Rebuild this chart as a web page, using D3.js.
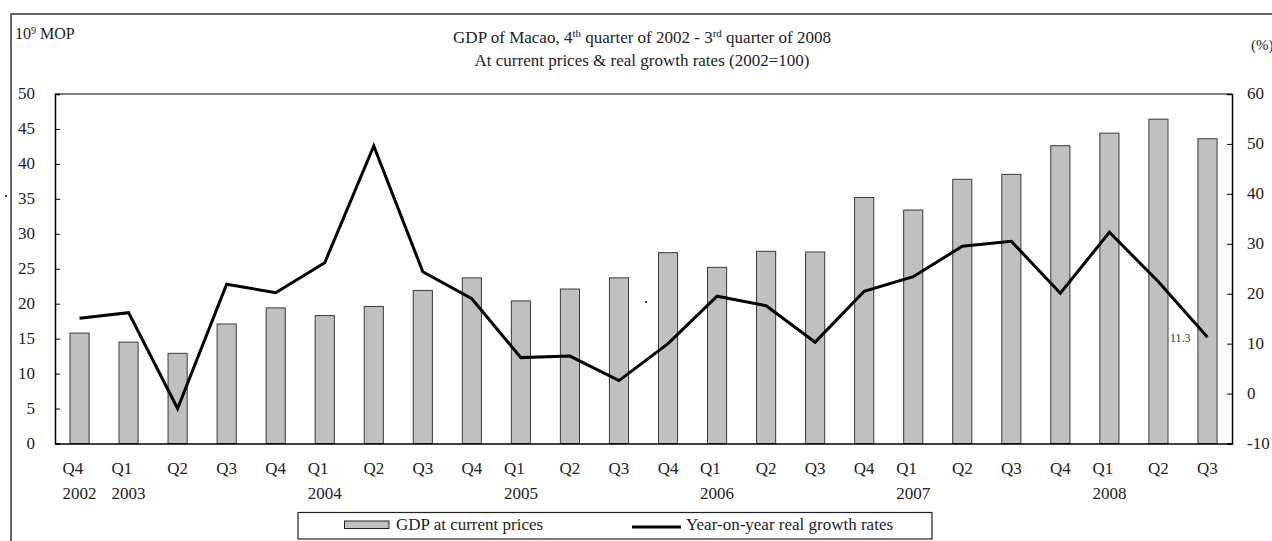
<!DOCTYPE html>
<html>
<head>
<meta charset="utf-8">
<script src="https://cdn.jsdelivr.net/npm/d3@7"></script>
<style>
  html, body { margin: 0; padding: 0; background: #fff; }
  svg { display: block; }
</style>
</head>
<body>
<svg id="chart" width="1272" height="541" font-family="'Liberation Serif', Tinos, 'Times New Roman', 'DejaVu Serif', 'Noto Serif', serif"></svg>
<script>
// ---- data ----
const quarters = ["Q4","Q1","Q2","Q3","Q4","Q1","Q2","Q3","Q4","Q1","Q2","Q3","Q4","Q1","Q2","Q3","Q4","Q1","Q2","Q3","Q4","Q1","Q2","Q3"];
const years    = ["2002","2003","","","","2004","","","","2005","","","","2006","","","","2007","","","","2008","",""];
const gdpValues    = [15.8,14.5,12.9,17.1,19.4,18.3,19.6,21.9,23.7,20.4,22.1,23.7,27.3,25.2,27.5,27.4,35.2,33.4,37.8,38.5,42.6,44.4,46.4,43.6];
const growthValues = [15.1,16.2,-3.0,21.9,20.2,26.2,49.6,24.4,19.0,7.2,7.5,2.6,10.0,19.5,17.6,10.3,20.5,23.4,29.5,30.5,20.1,32.3,22.4,11.3];
const leftTicks  = [0,5,10,15,20,25,30,35,40,45,50];
const rightTicks = [-10,0,10,20,30,40,50,60];
const legendLabels = ["GDP at current prices", "Year-on-year real growth rates"];
const lastLabel = "11.3";

// ---- layout ----
const svg = d3.select("#chart");
const TXT = "#222";
const L = 55, R = 1232, T = 94, B = 443.5;
const idx = d3.range(quarters.length);

const x = d3.scaleBand().domain(idx).range([L, R]).padding(0);
const bw = x.bandwidth() * 0.39;
const cx = i => x(i) + x.bandwidth() / 2;
const yL = d3.scaleLinear().domain([0, 50]).range([B, T]);
const yR = d3.scaleLinear().domain([-10, 60]).range([B, T]);

// outer frame
svg.append("rect").attr("x", 11).attr("y", 14).attr("width", 1400).attr("height", 700)
  .attr("fill", "none").attr("stroke", "#333").attr("stroke-width", 1.5);

// titles
const t1 = svg.append("text").attr("x", 642).attr("y", 43).attr("text-anchor", "middle").attr("font-size", 17).attr("fill", TXT);
t1.append("tspan").text("GDP of Macao, 4");
t1.append("tspan").attr("font-size", 11).attr("dy", -6).text("th");
t1.append("tspan").attr("dy", 6).text(" quarter of 2002 - 3");
t1.append("tspan").attr("font-size", 11).attr("dy", -6).text("rd");
t1.append("tspan").attr("dy", 6).text(" quarter of 2008");
svg.append("text").attr("x", 642).attr("y", 66).attr("text-anchor", "middle").attr("font-size", 17).attr("fill", TXT)
  .text("At current prices & real growth rates (2002=100)");

// unit labels
const u = svg.append("text").attr("x", 15).attr("y", 39).attr("font-size", 16).attr("fill", TXT);
u.append("tspan").text("10");
u.append("tspan").attr("font-size", 10).attr("dy", -5).text("9");
u.append("tspan").attr("dy", 5).text(" MOP");
svg.append("text").attr("x", 1251).attr("y", 50).attr("font-size", 15).attr("fill", TXT).text("(%)");

// bars
svg.append("g").selectAll("rect").data(gdpValues).join("rect")
  .attr("x", (d, i) => cx(i) - bw / 2)
  .attr("y", d => yL(d))
  .attr("width", bw)
  .attr("height", d => B - yL(d))
  .attr("fill", "#c0c0c0")
  .attr("stroke", "#3a3a3a")
  .attr("stroke-width", 1);

// plot top line
svg.append("line").attr("x1", L).attr("x2", R).attr("y1", T).attr("y2", T).attr("stroke", "#000").attr("stroke-width", 1.2);

// left axis
const gl = svg.append("g").attr("transform", `translate(${L},0)`)
  .call(d3.axisRight(yL).tickValues(leftTicks).tickSize(5).tickFormat(""));
gl.select(".domain").attr("stroke", "#000").attr("stroke-width", 1.5);
gl.selectAll(".tick line").attr("stroke", "#000");
svg.append("g").selectAll("text").data(leftTicks).join("text")
  .attr("x", 35).attr("y", d => yL(d) + 5).attr("text-anchor", "end").attr("font-size", 17).attr("fill", TXT).text(d => d);

// right axis
const gr = svg.append("g").attr("transform", `translate(${R},0)`)
  .call(d3.axisLeft(yR).tickValues(rightTicks).tickSize(5).tickFormat(""));
gr.select(".domain").attr("stroke", "#000").attr("stroke-width", 1.5);
gr.selectAll(".tick line").attr("stroke", "#000");
svg.append("g").selectAll("text").data(rightTicks).join("text")
  .attr("x", 1247).attr("y", d => yR(d) + 5).attr("text-anchor", "start").attr("font-size", 17).attr("fill", TXT).text(d => d);

// x axis
const gx = svg.append("g").attr("transform", `translate(0,${B})`)
  .call(d3.axisBottom(x).tickSize(0).tickFormat(""));
gx.select(".domain").attr("stroke", "#000").attr("stroke-width", 1.5);

// category labels (two-level, left aligned as a block when a year exists)
const catG = svg.append("g").attr("fill", TXT);
idx.forEach(i => {
  if (years[i]) {
    const yt = catG.append("text").attr("y", 499).attr("font-size", 17).text(years[i]);
    const w = yt.node().getComputedTextLength();
    const x0 = cx(i) - w / 2;
    yt.attr("x", x0);
    catG.append("text").attr("x", x0).attr("y", 474).attr("font-size", 17).text(quarters[i]);
  } else {
    catG.append("text").attr("x", cx(i)).attr("y", 474).attr("text-anchor", "middle").attr("font-size", 17).text(quarters[i]);
  }
});

// growth line
const line = d3.line().x((d, i) => cx(i)).y(d => yR(d));
svg.append("path").datum(growthValues).attr("d", line)
  .attr("fill", "none").attr("stroke", "#000").attr("stroke-width", 3).attr("stroke-linejoin", "miter");

// last value label
const li = growthValues.length - 1;
svg.append("text").attr("x", cx(li) - 17).attr("y", yR(growthValues[li]) + 5)
  .attr("text-anchor", "end").attr("font-size", 12).attr("fill", "#333").text(lastLabel);

// stray dots present in the source
svg.append("circle").attr("cx", 6).attr("cy", 196).attr("r", 1).attr("fill", "#000");
svg.append("circle").attr("cx", 646).attr("cy", 302).attr("r", 1).attr("fill", "#000");

// legend
const lg = svg.append("g");
lg.append("rect").attr("x", 298).attr("y", 512.5).attr("width", 634).attr("height", 26.5)
  .attr("fill", "#fff").attr("stroke", "#222").attr("stroke-width", 1.2);
lg.append("rect").attr("x", 344.5).attr("y", 521).attr("width", 44.5).attr("height", 7.5)
  .attr("fill", "#c0c0c0").attr("stroke", "#222").attr("stroke-width", 1);
lg.append("text").attr("x", 396).attr("y", 529.5).attr("font-size", 17).attr("fill", TXT).text(legendLabels[0]);
lg.append("line").attr("x1", 632).attr("x2", 681).attr("y1", 527).attr("y2", 527)
  .attr("stroke", "#000").attr("stroke-width", 3);
lg.append("text").attr("x", 686).attr("y", 529.5).attr("font-size", 17).attr("fill", TXT).text(legendLabels[1]);
</script>
</body>
</html>
